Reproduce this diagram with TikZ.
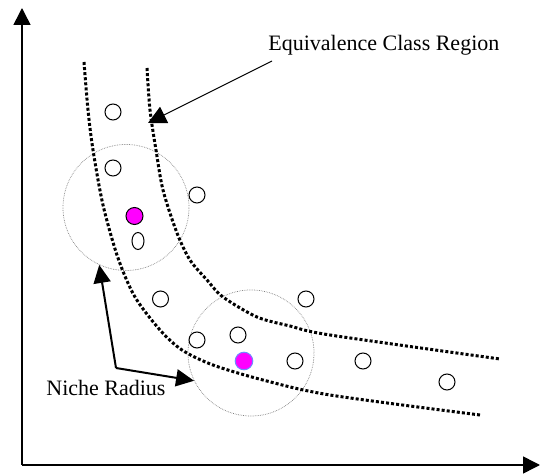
\documentclass[tikz,border=0pt]{standalone}
\usepackage{fontspec}
\setmainfont{Liberation Serif}
\usepackage{tikz}
\usetikzlibrary{arrows.meta, shapes.geometric}
\definecolor{nicheMagenta}{RGB}{255,0,255}
\definecolor{nicheBlue}{RGB}{110,140,255}

\begin{document}
\begin{tikzpicture}[
  x=0.5pt, y=-0.5pt,
  axis/.style={line width=0.75pt, -{Triangle[length=8.5pt,width=8.5pt]}},
  bound/.style={line width=1.5pt, dash pattern=on 1.5pt off 1.05pt},
  niche/.style={circle, draw=gray, line width=0.35pt, dash pattern=on 0.35pt off 0.5pt,
                minimum size=63pt, inner sep=0pt},
  sample/.style={circle, draw, line width=0.5pt, minimum size=8pt, inner sep=0pt},
  seed/.style={circle, draw, fill=nicheMagenta, line width=0.5pt,
               minimum size=8.5pt, inner sep=0pt},
  annot/.style={font=\fontsize{11}{13}\selectfont, inner sep=0pt, anchor=base west},
  pointer/.style={line width=0.5pt, -{Triangle[length=9pt,width=9pt]}},
  radarr/.style={line width=1pt, -{Triangle[length=9pt,width=8.5pt]}}
]
  \useasboundingbox (0,0) rectangle (541,475);

  % Axes
  \coordinate (origin) at (22,465);
  \coordinate (ytop) at (22,8);
  \coordinate (xend) at (540,465);
  \draw[axis] (origin) -- (ytop);
  \draw[axis] (origin) -- (xend);

  % Niche circles
  \node[niche] (lniche) at (126,207.5) {};
  \node[niche] (rniche) at (251,353) {};

  % Equivalence class boundaries
  \draw[bound] plot[smooth] coordinates {(84,62) (88,110) (93,150) (103,205) (118,258)
    (135,297) (160,330) (182,350) (213,365) (263,380) (330,395) (480,415)};
  \draw[bound] plot[smooth] coordinates {(147,68) (150,110) (156,150) (163,190) (177,233)
    (190,260) (207,280) (223,297) (257,317) (290,326) (330,335) (500,359)};

  % Samples
  \node[sample] (s1) at (113,112) {};
  \node[sample] (s2) at (113,168) {};
  \node[sample] (s3) at (197,195) {};
  \node[sample, ellipse, minimum width=6pt, minimum height=8.5pt] (s4) at (138,241) {};
  \node[sample] (s5) at (160.5,299) {};
  \node[sample] (s6) at (306,299) {};
  \node[sample] (s7) at (238,335) {};
  \node[sample] (s8) at (197,340) {};
  \node[sample] (s9) at (295,361) {};
  \node[sample] (s10) at (363,361) {};
  \node[sample] (s11) at (447,382) {};

  % Niche centres
  \node[seed] (lseed) at (134.5,216) {};
  \node[seed, draw=nicheBlue, minimum size=8.8pt] (rseed) at (244,361) {};

  % Labels
  \node[annot] (eqlabel) at (268,51) {Equivalence Class Region};
  \node[annot] (nichelabel) at (46,396) {Niche Radius};

  \coordinate (eqtail) at (272,61);
  \coordinate (eqtip) at (148,123);
  \draw[pointer] (eqtail) -- (eqtip);

  \coordinate (nichecorner) at (116,368);
  \draw[radarr] (nichecorner) -- (lniche.245);
  \draw[radarr] (nichecorner) -- (rniche.206);
\end{tikzpicture}
\end{document}
